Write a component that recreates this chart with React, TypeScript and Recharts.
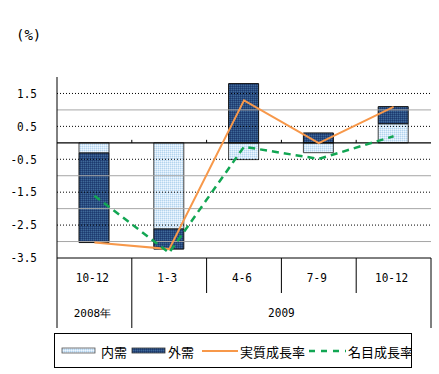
import React from 'react';
import { ComposedChart, Bar, Line, XAxis, YAxis, ReferenceLine, Legend } from 'recharts';

const periodKeys = ['2008Q4', '2009Q1', '2009Q2', '2009Q3', '2009Q4'];
const quarterLabels = ['10-12', '1-3', '4-6', '7-9', '10-12'];
const yearLabels = ['2008年', '2009'];
const domesticDemand = [-0.31, -2.62, -0.51, -0.3, 0.58];
const externalDemand = [-2.72, -0.61, 1.8, 0.3, 0.52];
const realGrowth = [-3.03, -3.23, 1.29, -0.01, 1.09];
const nominalGrowth = [-1.61, -3.34, -0.12, -0.49, 0.2];
const seriesNames = ['内需', '外需', '実質成長率', '名目成長率'];
const yTicks = [-3.5, -2.5, -1.5, -0.5, 0.5, 1.5];
const dottedGrid = [-2.5, -1.5, -0.5, 0.5, 1.5];
const grayGrid = [-3, -2, -1, 1];

const data = periodKeys.map((k, i) => ({
  key: k,
  naiju: domesticDemand[i],
  gaiju: externalDemand[i],
  real: realGrowth[i],
  nominal: nominalGrowth[i],
}));

const MONO = '"DejaVu Sans Mono", monospace';
const JP = '"Noto Sans CJK JP", sans-serif';
const ORANGE = '#f7984a';
const GREEN = '#12a653';

const NarrowText = ({ x, y, anchor, children }: any) => (
  <g transform={`translate(${x},${y}) scale(0.85,1)`}>
    <text x={0} y={0} textAnchor={anchor} dominantBaseline="central" fontFamily={MONO} fontSize={13} fill="#000">
      {children}
    </text>
  </g>
);

const YTick = (props: any) => {
  const { x, y, payload } = props;
  return <NarrowText x={x} y={y} anchor="end">{String(payload.value)}</NarrowText>;
};

const TableTick = (props: any) => {
  const { x, y, index, payload, width, visibleTicksCount } = props;
  const bw = payload && payload.offset ? payload.offset * 2 : width / visibleTicksCount;
  const left = x - bw / 2;
  const right = x + bw / 2;
  const last = index === visibleTicksCount - 1;
  return (
    <g>
      <NarrowText x={x - 2} y={y + 20} anchor="middle">{quarterLabels[index]}</NarrowText>
      <line x1={left} x2={left} y1={y} y2={y + (index <= 1 ? 70 : 35)} stroke="#000" />
      {last && <line x1={right} x2={right} y1={y} y2={y + 70} stroke="#000" />}
      {index === 0 && (
        <text x={x - 2} y={y + 55} textAnchor="middle" dominantBaseline="central" fontFamily={MONO} fontSize={11} fill="#000">
          {yearLabels[0]}
        </text>
      )}
      {index === 1 && (
        <NarrowText x={x + bw * 1.5} y={y + 55} anchor="middle">{yearLabels[1]}</NarrowText>
      )}
    </g>
  );
};

const ZeroLine = (p: any) => {
  const { x1, y1, x2 } = p;
  const n = periodKeys.length;
  const ticks = [];
  for (let i = 1; i < n; i++) {
    const tx = x1 + ((x2 - x1) * i) / n;
    ticks.push(<line key={i} x1={tx} x2={tx} y1={y1 - 3} y2={y1} stroke="#000" />);
  }
  return (
    <g>
      <line x1={x1} x2={x2} y1={y1} y2={y1} stroke="#000" strokeWidth={1.2} />
      {ticks}
    </g>
  );
};

const LegendContent = () => (
  <svg width={358} height={35} style={{ display: 'block' }}>
    <rect x={0.5} y={0.5} width={357} height={34} fill="#fff" stroke="#000" />
    <rect x={8} y={15} width={33} height={5} fill="url(#lightPat)" stroke="#555" strokeWidth={0.8} />
    <text x={47} y={18} dominantBaseline="central" fontFamily={JP} fontSize={13} fill="#000">{seriesNames[0]}</text>
    <rect x={78} y={15} width={33} height={5} fill="url(#darkPat)" stroke="#333" strokeWidth={0.8} />
    <text x={114} y={18} dominantBaseline="central" fontFamily={JP} fontSize={13} fill="#000">{seriesNames[1]}</text>
    <line x1={148} x2={184} y1={18} y2={18} stroke={ORANGE} strokeWidth={2} />
    <text x={186} y={18} dominantBaseline="central" fontFamily={JP} fontSize={13} fill="#000">{seriesNames[2]}</text>
    <line x1={255} x2={292} y1={18} y2={18} stroke={GREEN} strokeWidth={2.5} strokeDasharray="6 6" />
    <text x={294} y={18} dominantBaseline="central" fontFamily={JP} fontSize={13} fill="#000">{seriesNames[3]}</text>
  </svg>
);

export default function App() {
  return (
    <div style={{ position: 'absolute', left: 0, top: 0, width: 439, height: 374, background: '#fff' }}>
      <ComposedChart
        width={439}
        height={374}
        data={data}
        stackOffset="sign"
        margin={{ top: 77, right: 8, left: 0, bottom: 46 }}
      >
        <defs>
          <pattern id="lightPat" width={2} height={2} patternUnits="userSpaceOnUse">
            <rect width={2} height={2} fill="#d4e8f8" />
            <rect width={1} height={1} fill="#b4d4ee" />
            <rect x={1} y={1} width={1} height={1} fill="#eef6ff" />
          </pattern>
          <pattern id="darkPat" width={2} height={2} patternUnits="userSpaceOnUse">
            <rect width={2} height={2} fill="#2a4c80" />
            <rect width={1} height={1} fill="#1d3a6e" />
            <rect x={1} y={1} width={1} height={1} fill="#3f6a98" />
          </pattern>
        </defs>
        <XAxis
          dataKey="key"
          interval={0}
          height={70}
          tickSize={0}
          tickMargin={0}
          tickLine={false}
          axisLine={{ stroke: '#000' }}
          tick={<TableTick />}
        />
        <XAxis xAxisId="top" dataKey="key" orientation="top" height={0} tick={false} tickLine={false} axisLine={{ stroke: '#000' }} />
        <YAxis
          domain={[-3.5, 2]}
          ticks={yTicks}
          width={57}
          tickSize={0}
          tickMargin={20}
          tickLine={false}
          axisLine={{ stroke: '#000' }}
          tick={<YTick />}
          label={{
            content: (p: any) => {
              const vb = p.viewBox || { x: 0, y: 77 };
              return (
                <text x={vb.x + 16} y={vb.y - 42} dominantBaseline="central" fontFamily={MONO} fontSize={14} fill="#000">
                  (%)
                </text>
              );
            },
          }}
        />
        <YAxis yAxisId="r" orientation="right" width={0} tick={false} tickLine={false} axisLine={{ stroke: '#000' }} />
        {grayGrid.map((v) => (
          <ReferenceLine key={'g' + v} y={v} stroke="#a6a6a6" strokeWidth={1} />
        ))}
        {dottedGrid.map((v) => (
          <ReferenceLine key={'d' + v} y={v} stroke="#000" strokeWidth={1} strokeDasharray="1 2" />
        ))}
        <Bar dataKey="naiju" name={seriesNames[0]} stackId="a" barSize={30} fill="url(#lightPat)" stroke="#444" strokeWidth={1} isAnimationActive={false} />
        <Bar dataKey="gaiju" name={seriesNames[1]} stackId="a" barSize={30} fill="url(#darkPat)" stroke="#111" strokeWidth={1} isAnimationActive={false} />
        <ReferenceLine y={0} shape={<ZeroLine />} />
        <Line dataKey="real" name={seriesNames[2]} type="linear" stroke={ORANGE} strokeWidth={2} dot={false} activeDot={false} isAnimationActive={false} />
        <Line dataKey="nominal" name={seriesNames[3]} type="linear" stroke={GREEN} strokeWidth={2.5} strokeDasharray="7 5" dot={false} activeDot={false} isAnimationActive={false} />
        <Legend
          layout="horizontal"
          verticalAlign="middle"
          align="center"
          content={<LegendContent />}
          wrapperStyle={{ position: 'absolute', left: 54, top: 333, width: 358, height: 35, bottom: 'auto', right: 'auto' }}
        />
      </ComposedChart>
    </div>
  );
}
